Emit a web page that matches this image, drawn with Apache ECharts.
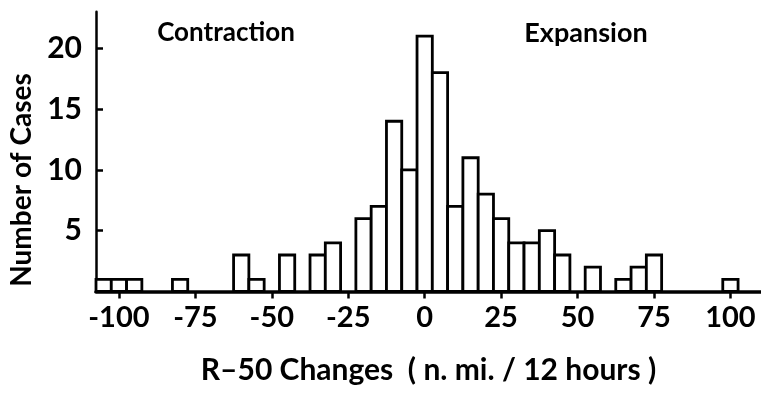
<!DOCTYPE html>
<html>
<head>
<meta charset="utf-8">
<script src="https://cdn.jsdelivr.net/npm/echarts@6/dist/echarts.min.js"></script>
<style>
html,body{margin:0;padding:0;background:#fff;}
#c{width:761px;height:393px;}
</style>
</head>
<body>
<div id="c"></div>
<script>
// Bin centres (n. mi. / 12 h) and number of cases per 5-unit bin
const binCenters = [-105, -100, -95, -80, -60, -55, -45, -35, -30, -20, -15, -10, -5, 0, 5, 10, 15, 20, 25, 30, 35, 40, 45, 55, 65, 70, 75, 100];
const caseCounts = [1, 1, 1, 1, 3, 1, 3, 3, 4, 6, 7, 14, 10, 21, 18, 7, 11, 8, 6, 4, 4, 5, 3, 2, 1, 2, 3, 1];
const binWidth = 5;
const xTicks = [-100, -75, -50, -25, 0, 25, 50, 75, 100];
const yTicks = [5, 10, 15, 20];
const leftNote = 'Contraction';
const rightNote = 'Expansion';
const xTitle = 'R–50 Changes  ( n. mi. / 12 hours )';
const yTitle = 'Number of Cases';

const FONT = 'Lato';
const chart = echarts.init(document.getElementById('c'), null, {renderer: 'canvas'});

const data = binCenters.map((c, i) => [c, caseCounts[i]]);

chart.setOption({
  backgroundColor: '#fff',
  animation: false,
  grid: {left: 96, right: 0, top: 11.8, bottom: 101.5},
  xAxis: {
    type: 'value',
    min: -107.5,
    max: 110,
    name: xTitle,
    nameLocation: 'middle',
    nameGap: 64,
    nameTextStyle: {fontFamily: FONT, fontWeight: 'bold', fontSize: 30, color: '#000'},
    splitLine: {show: false},
    axisLine: {show: true, onZero: false, lineStyle: {color: '#000', width: 3.5}},
    axisTick: {show: true, inside: false, length: 7, customValues: xTicks, lineStyle: {color: '#000', width: 2.5}},
    axisLabel: {
      customValues: xTicks,
      margin: 12,
      fontFamily: FONT, fontWeight: 'bold', fontSize: 29, color: '#000'
    }
  },
  yAxis: {
    type: 'value',
    min: 0,
    max: 23,
    splitLine: {show: false},
    axisLine: {show: true, onZero: false, lineStyle: {color: '#000', width: 2.5}},
    axisTick: {show: true, inside: true, length: 7, customValues: yTicks, lineStyle: {color: '#000', width: 2.5}},
    axisLabel: {
      customValues: yTicks,
      margin: 14,
      fontFamily: FONT, fontWeight: 'bold', fontSize: 30, color: '#000'
    }
  },
  series: [{
    type: 'custom',
    data: data,
    renderItem: function (params, api) {
      const c = api.value(0), n = api.value(1);
      const p0 = api.coord([c - binWidth / 2, 0]);
      const p1 = api.coord([c + binWidth / 2, n]);
      return {
        type: 'rect',
        shape: {x: p0[0], y: p1[1], width: p1[0] - p0[0], height: p0[1] - p1[1]},
        style: {fill: '#fff', stroke: '#000', lineWidth: 2.8}
      };
    }
  }],
  graphic: [
    {type: 'text', x: 226, y: 33, style: {text: leftNote, align: 'center', verticalAlign: 'middle', fontFamily: FONT, fontWeight: 'bold', fontSize: 26, fill: '#000'}},
    {type: 'text', x: 586, y: 33, style: {text: rightNote, align: 'center', verticalAlign: 'middle', fontFamily: FONT, fontWeight: 'bold', fontSize: 27, fill: '#000'}},
    {type: 'text', x: 22, y: 180, rotation: Math.PI / 2, style: {text: yTitle, align: 'center', verticalAlign: 'middle', fontFamily: FONT, fontWeight: 'bold', fontSize: 28, fill: '#000'}}
  ]
});
</script>
</body>
</html>
